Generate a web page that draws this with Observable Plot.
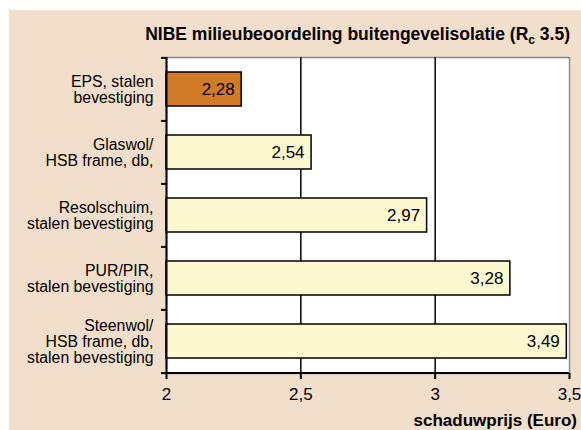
<!DOCTYPE html>
<html>
<head>
<meta charset="utf-8">
<script src="https://cdn.jsdelivr.net/npm/d3@7"></script>
<script src="https://cdn.jsdelivr.net/npm/@observablehq/plot@0.6"></script>
<style>
  body { margin: 0; background: #ffffff; font-family: "Liberation Sans", Arial, Helvetica, sans-serif; }
  #wrap { position: relative; width: 581px; height: 430px; overflow: hidden; }
  #bg { position: absolute; left: 9px; top: 10px; width: 572px; height: 420px; background: #f2dfcb; }
  #chart { position: absolute; left: 0; top: 0; }
  #title { position: absolute; right: 11px; top: 24px; font-weight: bold; font-size: 17.5px; line-height: 20px; color: #000; white-space: nowrap; }
  #title sub { font-size: 12px; vertical-align: -4px; line-height: 0; }
  #xlabel { position: absolute; right: 4px; top: 411px; font-weight: bold; font-size: 17px; line-height: 20px; color: #000; white-space: nowrap; }
</style>
</head>
<body>
<div id="wrap">
  <div id="bg"></div>
  <div id="chart"></div>
  <div id="title">NIBE milieubeoordeling buitengevelisolatie (R<sub>c</sub> 3.5)</div>
  <div id="xlabel">schaduwprijs (Euro)</div>
</div>
<script>
const categories = [
  "EPS, stalen\nbevestiging",
  "Glaswol/\nHSB frame, db,",
  "Resolschuim,\nstalen bevestiging",
  "PUR/PIR,\nstalen bevestiging",
  "Steenwol/\nHSB frame, db,\nstalen bevestiging"
];
const values = [2.28, 2.54, 2.97, 3.28, 3.49];
const valueLabels = ["2,28", "2,54", "2,97", "3,28", "3,49"];
const highlighted = [true, false, false, false, false];
const xTicks = [2, 2.5, 3, 3.5];
const xTickLabels = ["2", "2,5", "3", "3,5"];

const orange = "#d17a27";
const yellow = "#fdf8d0";

const data = categories.map((c, i) => ({cat: c, value: values[i], label: valueLabels[i], hl: highlighted[i]}));
const xMin = xTicks[0], xMax = xTicks[xTicks.length - 1];

const W = 581, H = 430;
const mTop = 57, mBottom = 57, mLeft = 166, mRight = 12;
const step = (H - mTop - mBottom) / categories.length;
const font = "'Liberation Sans', Arial, Helvetica, sans-serif";

const chart = Plot.plot({
  width: W, height: H,
  marginTop: mTop, marginBottom: mBottom, marginLeft: mLeft, marginRight: mRight,
  style: {background: "transparent", fontFamily: font, color: "#000"},
  x: {domain: [xMin, xMax]},
  y: {domain: categories, paddingInner: 0.46, paddingOuter: 0.23},
  color: {type: "identity"},
  marks: [
    Plot.frame({fill: "white", stroke: "#8c8c8c", strokeWidth: 1.5}),
    Plot.ruleX(xTicks.filter(t => t > xMin && t < xMax), {stroke: "#000", strokeWidth: 1.5}),
    Plot.barX(data, {y: "cat", x1: () => xMin, x2: "value", fill: d => d.hl ? orange : yellow, stroke: "#000", strokeWidth: 1.5}),
    Plot.text(data, {y: "cat", x: "value", text: "label", textAnchor: "end", dx: -7, fontSize: 17, fill: "#000"}),
    Plot.ruleX([xMin], {stroke: "#000", strokeWidth: 2}),
    Plot.tickY([categories[categories.length - 1]], {y: d => d, dy: step / 2, stroke: "#000", strokeWidth: 2}),
    Plot.axisY({tickSize: 0, tickPadding: 13, fontSize: 15.8, lineHeight: 1.02, label: null}),
    Plot.axisY(categories, {tickSize: 5, tickFormat: () => "", dy: -step / 2, strokeWidth: 2, label: null}),
    Plot.axisY([categories[categories.length - 1]], {tickSize: 5, tickFormat: () => "", dy: step / 2, strokeWidth: 2, label: null}),
    Plot.axisX({ticks: xTicks, tickFormat: (d) => xTickLabels[xTicks.indexOf(d)], tickSize: 6, strokeWidth: 2, tickPadding: 8, fontSize: 17, label: null})
  ]
});
document.getElementById("chart").appendChild(chart);
</script>
</body>
</html>
